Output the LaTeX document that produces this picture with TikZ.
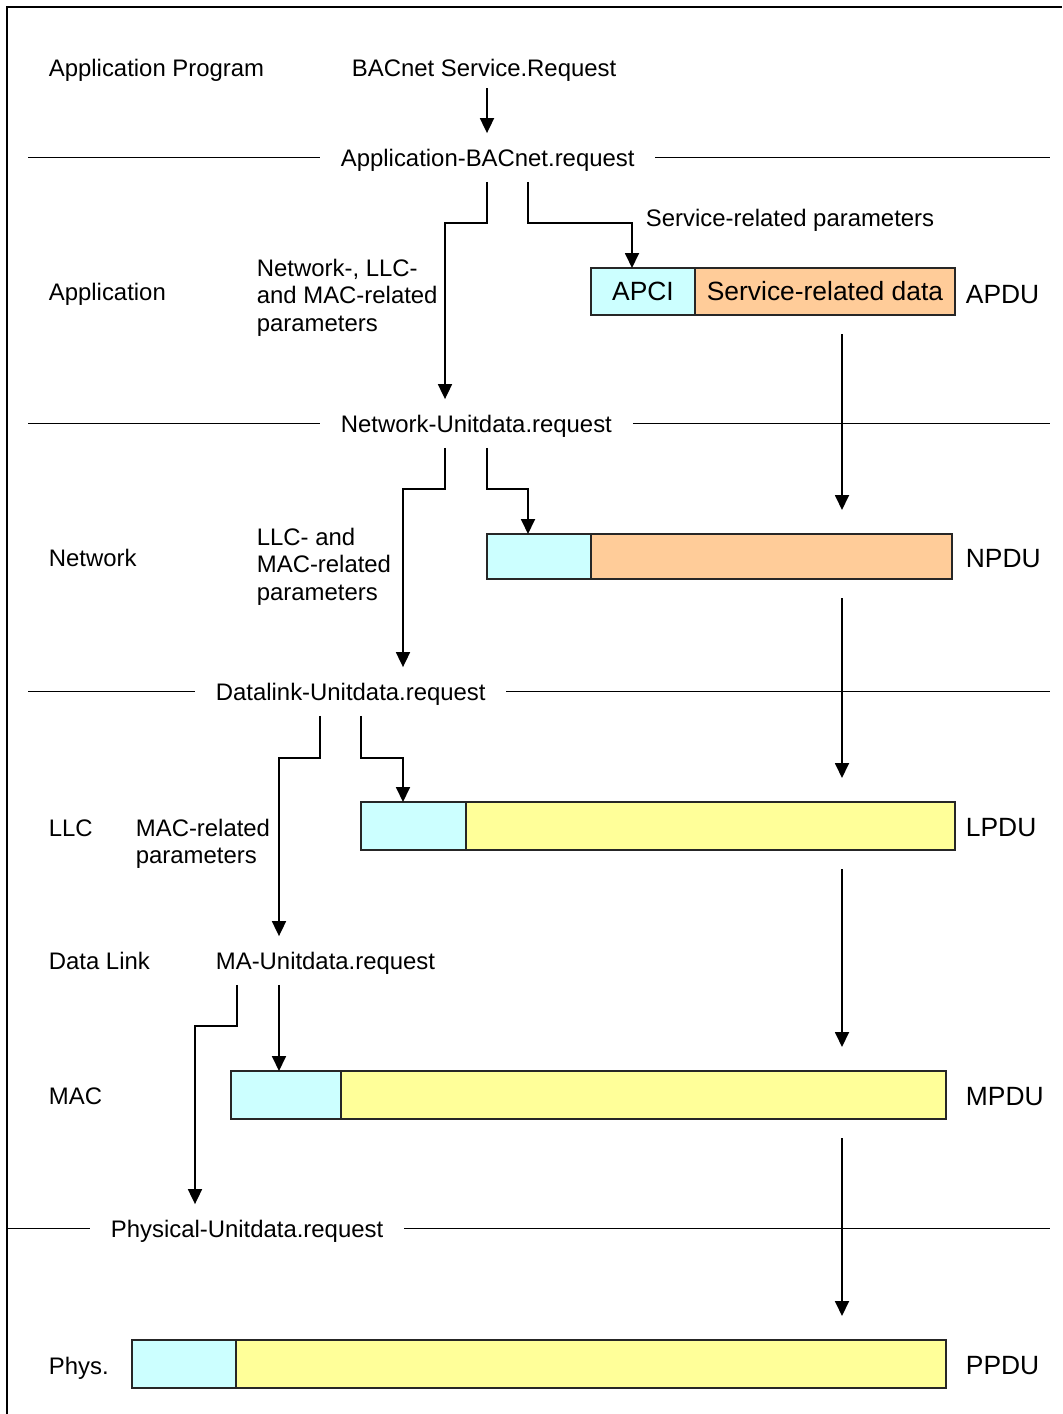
\documentclass[tikz,border=0pt]{standalone}
\usepackage{fontspec}
\setmainfont{Liberation Sans}
\usetikzlibrary{positioning,arrows.meta}
\definecolor{pcicyan}{HTML}{CCFFFF}
\definecolor{dataorange}{HTML}{FFCC99}
\definecolor{datayellow}{HTML}{FFFF99}

\begin{document}
\begin{tikzpicture}[x=0.5pt, y=-0.5pt, line width=0.9pt,
    lbl/.style={inner sep=0pt, anchor=base west, font=\fontsize{11.95pt}{13.75pt}\selectfont},
    pdulbl/.style={inner sep=0pt, anchor=base west, font=\fontsize{13.2pt}{16pt}\selectfont},
    req/.style={inner xsep=10pt, inner ysep=7.5pt, text height=8.5pt, text depth=0pt,
        anchor=base west, font=\fontsize{11.95pt}{13.75pt}\selectfont},
    pci/.style={draw=black!85, fill=pcicyan, minimum height=24pt, inner sep=0pt, outer sep=0pt,
        font=\fontsize{13.2pt}{16pt}\selectfont},
    sdu/.style={pci, fill=dataorange},
    ldu/.style={pci, fill=datayellow},
    arr/.style={-{Triangle[width=7pt,length=7.5pt]}}]
        \useasboundingbox (0,0) rectangle (1062,1414);

        % Frame
        \draw (7,1414) -- (7,7) -- (1062,7);

        % Layer names
        \node[lbl] (approg) at (48,76) {Application Program};
        \node[lbl] (applayer) at (48,300) {Application};
        \node[lbl] (netlayer) at (48,566) {Network};
        \node[lbl] (llclayer) at (48,836) {LLC};
        \node[lbl] (dllayer) at (48,969) {Data Link};
        \node[lbl] (maclayer) at (48,1104) {MAC};
        \node[lbl] (physlayer) at (48,1374) {Phys.};

        % Service primitives
        \node[lbl] (bsr) at (351,76) {BACnet Service.Request};
        \node[req] (appreq) at (320,166) {Application-BACnet.request};
        \node[req] (netreq) at (320,432) {Network-Unitdata.request};
        \node[req] (dlreq) at (195,700) {Datalink-Unitdata.request};
        \node[req] (mareq) at (195,969) {MA-Unitdata.request};
        \node[req] (physreq) at (90,1237) {Physical-Unitdata.request};

        % Parameters
        \node[lbl] (srp) at (645,226) {Service-related parameters};
        \node[lbl, align=left, anchor=north west] (nparams) at (256,258) {Network-, LLC-\\and MAC-related\\parameters};
        \node[lbl, align=left, anchor=north west] (lparams) at (256,527) {LLC- and\\MAC-related\\parameters};
        \node[lbl, align=left, anchor=north west] (mparams) at (135,818) {MAC-related\\parameters};

        % PDUs
        \node[pci, minimum width=52pt, minimum height=23.5pt, anchor=north west] (apci) at (591,268) {APCI};
        \node[sdu, minimum width=130pt, minimum height=23.5pt, right=0pt of apci] (asdu) {Service-related data};
        \node[pci, minimum width=52pt, minimum height=22.5pt, anchor=north west] (npci) at (487,534) {};
        \node[sdu, minimum width=180.5pt, minimum height=22.5pt, right=0pt of npci] (nsdu) {};
        \node[pci, minimum width=52.5pt, anchor=north west] (lpci) at (361,802) {};
        \node[ldu, minimum width=244.5pt, right=0pt of lpci] (lsdu) {};
        \node[pci, minimum width=55pt, anchor=north west] (mpci) at (231,1071) {};
        \node[ldu, minimum width=302.5pt, right=0pt of mpci] (msdu) {};
        \node[pci, minimum width=52pt, anchor=north west] (ppci) at (132,1340) {};
        \node[ldu, minimum width=355pt, right=0pt of ppci] (psdu) {};

        \node[pdulbl] (apdu) at (965,303) {APDU};
        \node[pdulbl] (npdu) at (965,567) {NPDU};
        \node[pdulbl] (lpdu) at (965,836) {LPDU};
        \node[pdulbl] (mpdu) at (965,1105) {MPDU};
        \node[pdulbl] (ppdu) at (965,1374) {PPDU};

        % Layer boundaries
        \coordinate (lx) at (28,0);
        \coordinate (rx) at (1050,0);
        \coordinate (fx) at (7,0);
        \draw (lx |- appreq.west) -- (appreq.west);
        \draw (appreq.east) -- (rx |- appreq.east);
        \draw (lx |- netreq.west) -- (netreq.west);
        \draw (netreq.east) -- (rx |- netreq.east);
        \draw (lx |- dlreq.west) -- (dlreq.west);
        \draw (dlreq.east) -- (rx |- dlreq.east);
        \draw (fx |- physreq.west) -- (physreq.west);
        \draw (physreq.east) -- (rx |- physreq.east);

        % Primitives passed down
        \coordinate (bsrout) at (487,88);
        \draw[arr] (bsrout) -- (bsrout |- appreq.north);

        \coordinate (b1) at (445,223);
        \coordinate (b2) at (632,223);
        \draw[arr] (487,0 |- appreq.south) |- (b1) -- (b1 |- netreq.north);
        \draw[arr] (528,0 |- appreq.south) |- (b2) -- (b2 |- apci.north);

        \coordinate (b3) at (403,489);
        \coordinate (b4) at (528,489);
        \draw[arr] (445,0 |- netreq.south) |- (b3) -- (b3 |- dlreq.north);
        \draw[arr] (487,0 |- netreq.south) |- (b4) -- (b4 |- npci.north);

        \coordinate (b5) at (279,758);
        \coordinate (b6) at (403,758);
        \draw[arr] (320,0 |- dlreq.south) |- (b5) -- (b5 |- mareq.north);
        \draw[arr] (361,0 |- dlreq.south) |- (b6) -- (b6 |- lpci.north);

        \coordinate (b7) at (195,1026);
        \draw[arr] (237,0 |- mareq.south) |- (b7) -- (b7 |- physreq.north);
        \draw[arr] (279,0 |- mareq.south) -- (279,0 |- mpci.north);

        % PDU flow
        \coordinate (flow) at (842,0);
        \draw[arr, shorten <=9.5pt, shorten >=12pt] (flow |- asdu.south) -- (flow |- nsdu.north);
        \draw[arr, shorten <=9.5pt, shorten >=12pt] (flow |- nsdu.south) -- (flow |- lsdu.north);
        \draw[arr, shorten <=9.5pt, shorten >=12pt] (flow |- lsdu.south) -- (flow |- msdu.north);
        \draw[arr, shorten <=9.5pt, shorten >=12pt] (flow |- msdu.south) -- (flow |- psdu.north);
\end{tikzpicture}
\end{document}
